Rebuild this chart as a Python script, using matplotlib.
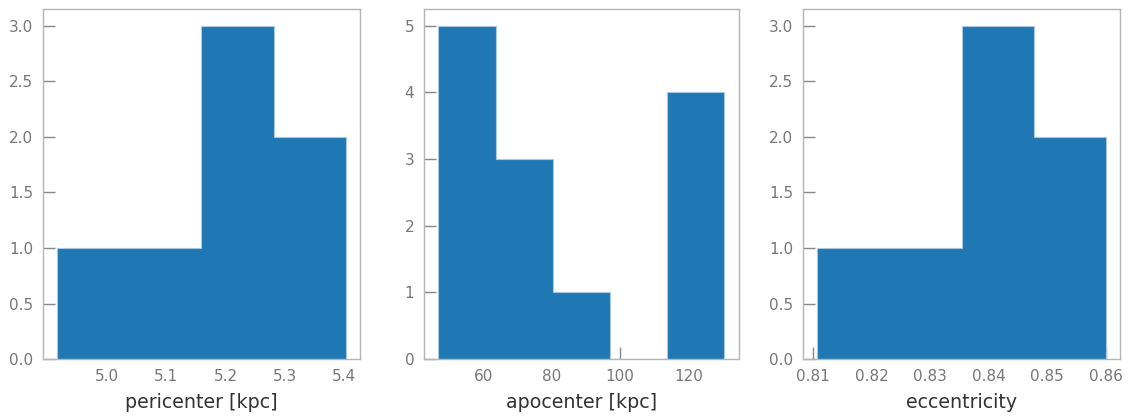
import numpy as np
import matplotlib
matplotlib.use("Agg")
import matplotlib.pyplot as plt

# histogram bin edges and counts for each orbital parameter
peri_edges = [4.9165, 5.038, 5.159, 5.281, 5.402]
peri_counts = [1, 1, 3, 2]

apo_edges = [46.76, 63.5, 80.3, 97.05, 113.8, 130.5]
apo_counts = [5, 3, 1, 0, 4]

ecc_edges = [0.8107, 0.8230, 0.8354, 0.8477, 0.8600]
ecc_counts = [1, 1, 3, 2]

labels = ["pericenter [kpc]", "apocenter [kpc]", "eccentricity"]
xticks = [[5.0, 5.1, 5.2, 5.3, 5.4], [60, 80, 100, 120], [0.81, 0.82, 0.83, 0.84, 0.85, 0.86]]
yticks = [[0, 0.5, 1.0, 1.5, 2.0, 2.5, 3.0], [0, 1, 2, 3, 4, 5], [0, 0.5, 1.0, 1.5, 2.0, 2.5, 3.0]]

plt.rcParams['font.family'] = 'DejaVu Sans'
plt.rcParams['axes.axisbelow'] = True

fig = plt.figure(figsize=(11.28, 4.17), dpi=100)
lefts = [0.0381, 0.3759, 0.7119]
widths = [0.281, 0.279, 0.281]

data = [(peri_edges, peri_counts), (apo_edges, apo_counts), (ecc_edges, ecc_counts)]

for i, (edges, counts) in enumerate(data):
    ax = fig.add_axes([lefts[i], 0.139, widths[i], 0.839])
    ax.hist(edges[:-1], bins=edges, weights=counts, histtype='stepfilled',
            color='#1f77b4', edgecolor='#a8c8e4', linewidth=0.8)
    ax.set_xticks(xticks[i])
    ax.set_yticks(yticks[i])
    if i == 1:
        ax.set_yticklabels([str(v) for v in yticks[i]])
    else:
        ax.set_yticklabels(["%.1f" % v for v in yticks[i]])
    ax.set_xticklabels([("%.2f" % v) if i == 2 else ("%.1f" % v if i == 0 else str(v)) for v in xticks[i]])
    ax.tick_params(direction='in', length=8.5, width=1, color='#888888',
                   labelcolor='#777777', labelsize=11, pad=7,
                   top=False, right=False)
    for s in ax.spines.values():
        s.set_color('#b5b5b5')
        s.set_linewidth(1.0)
    ax.set_xlabel(labels[i], fontsize=13.7, color='#333333', labelpad=7)

fig.savefig("out.png", dpi=100)
